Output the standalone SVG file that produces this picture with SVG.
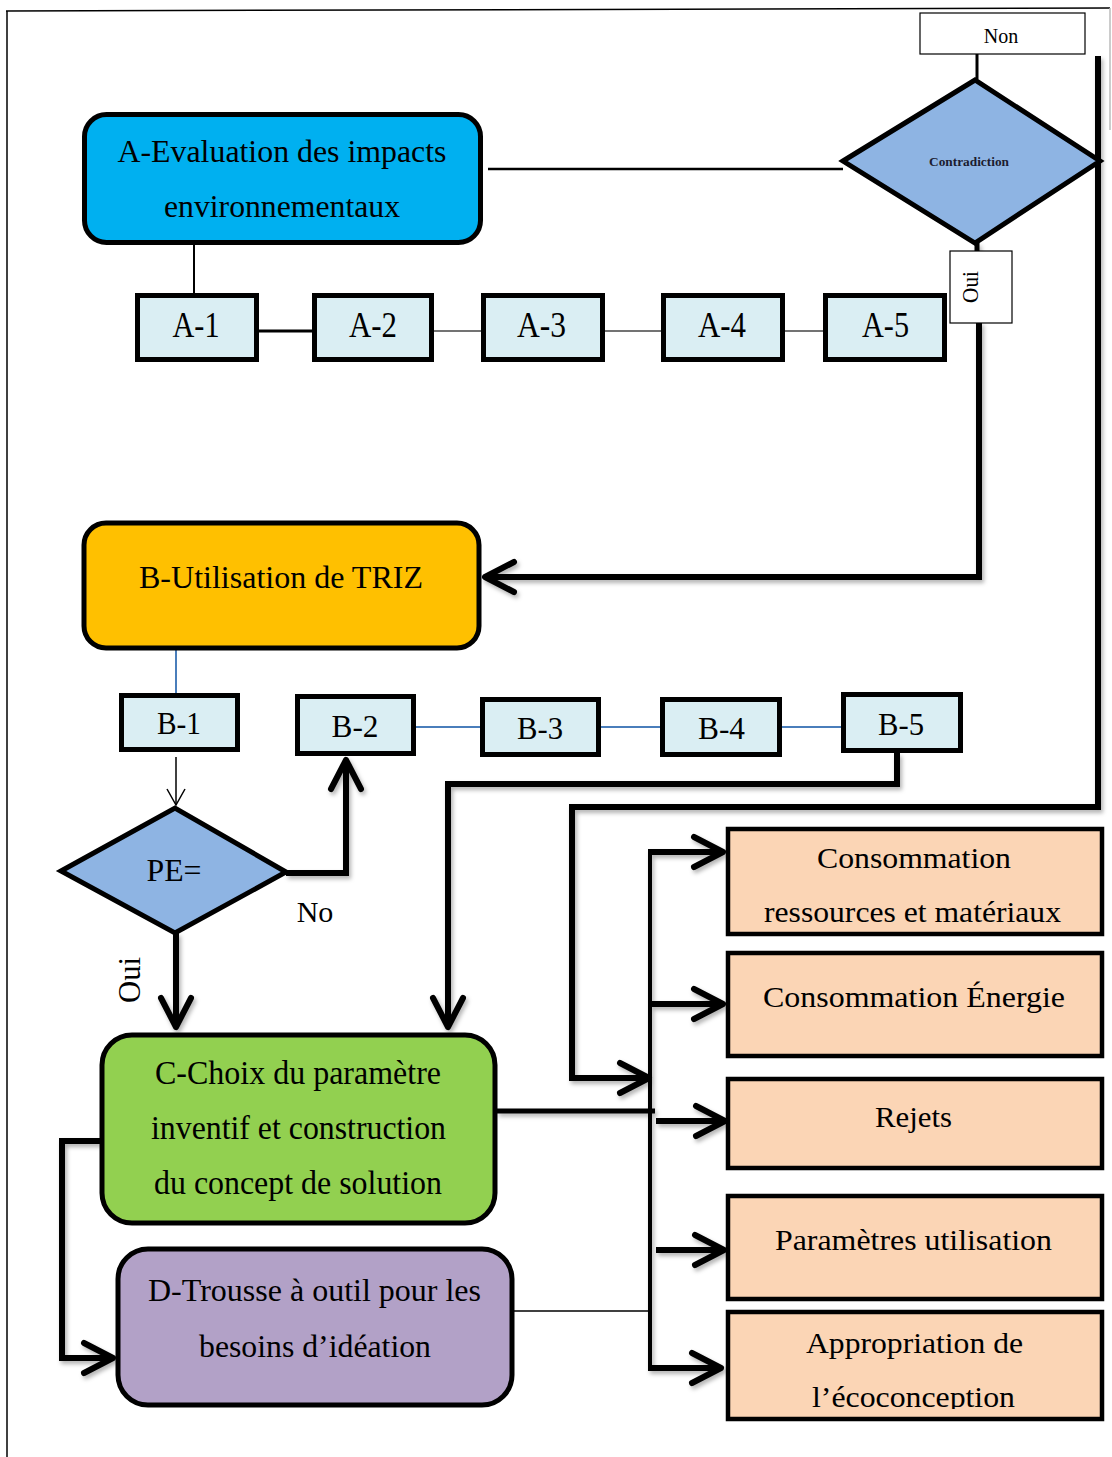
<svg xmlns="http://www.w3.org/2000/svg" width="1112" height="1457" viewBox="0 0 1112 1457">
  <style>
    .t { font-family: "Liberation Serif", "Times New Roman", serif; fill: #000; text-anchor: middle; }
    .box { stroke: #000; stroke-width: 5; }
    .sq { fill: #DAEEF3; stroke: #000; stroke-width: 5; }
    .out { fill: #FBD5B5; stroke: #000; stroke-width: 4.5; }
    .dia { fill: #8EB4E3; stroke: #000; stroke-width: 5; stroke-linejoin: miter; }
    .lbl { fill: #fff; stroke: #000; stroke-width: 1.2; }
    .ck { fill: none; stroke: #000; stroke-width: 6; stroke-linejoin: miter; }
    .cm { fill: none; stroke: #000; stroke-width: 4; }
    .cthin { fill: none; stroke: #000; stroke-width: 1.5; }
    .cgrey { fill: none; stroke: #444; stroke-width: 1.5; }
    .cblue { fill: none; stroke: #4A7EBB; stroke-width: 2; }
  </style>
  <defs>
    <marker id="ah" markerUnits="userSpaceOnUse" viewBox="-40 -22 46 44" refX="0" refY="0" markerWidth="46" markerHeight="44" orient="auto" overflow="visible">
      <path d="M-29,-15 L0,0 L-29,15" fill="none" stroke="#000" stroke-width="6" stroke-linecap="round" stroke-linejoin="round"/>
    </marker>
    <marker id="ahThin" markerUnits="userSpaceOnUse" viewBox="-20 -12 24 24" refX="0" refY="0" markerWidth="24" markerHeight="24" orient="auto" overflow="visible">
      <path d="M-16,-9 L0,0 L-16,9" fill="none" stroke="#000" stroke-width="1.5"/>
    </marker>
    <filter id="sh" x="-5%" y="-5%" width="110%" height="110%">
      <feDropShadow dx="2" dy="3" stdDeviation="2" flood-color="#000" flood-opacity="0.3"/>
    </filter>
    <clipPath id="clipLast">
      <rect x="728" y="1312" width="374" height="97"/>
    </clipPath>
  </defs>

  <rect width="1112" height="1457" fill="#fff"/>

  <!-- page frame -->
  <g id="frame">
    <path d="M6,11 L1110,8" stroke="#000" stroke-width="1.5" fill="none"/>
    <path d="M7,11 V1457" stroke="#000" stroke-width="1.5" fill="none"/>
    <path d="M1110,8 V130" stroke="#bbb" stroke-width="1.5" fill="none"/>
  </g>

  <!-- connectors -->
  <g id="connectors">
    <!-- thin / light links -->
    <path class="cthin" d="M194,243 V293" style="stroke-width:2"/>
    <path class="cthin" d="M488,169 H843" style="stroke-width:2.5"/>
    <path class="cthin" d="M977,54 V79" style="stroke-width:3"/>
    <path class="cthin" d="M259,331 H312" style="stroke-width:3"/>
    <path class="cgrey" d="M434,331 H481"/>
    <path class="cgrey" d="M605,331 H661"/>
    <path class="cgrey" d="M785,331 H823"/>
    <path class="cblue" d="M176,650 V693"/>
    <path class="cblue" d="M416,727 H480"/>
    <path class="cblue" d="M601,727 H660"/>
    <path class="cblue" d="M782,727 H841"/>
    <path class="cthin" d="M176,757 V805" marker-end="url(#ahThin)"/>
    <path class="cthin" d="M514,1311 H648"/>

    <g filter="url(#sh)">
      <!-- Oui branch of the contradiction test back to TRIZ -->
      <path class="ck" d="M977,243 V252" style="stroke-width:5"/>
      <path class="ck" d="M979,322 V577 H485" marker-end="url(#ah)"/>
      <!-- Non branch down the right side to the outputs -->
      <path class="ck" d="M1098,56 V807 H572 V1078 H649" marker-end="url(#ah)"/>
      <!-- PE decision -->
      <path class="ck" d="M286,873 H346 V760" marker-end="url(#ah)"/>
      <path class="ck" d="M176,933 V1027" marker-end="url(#ah)"/>
      <!-- B-5 to C -->
      <path class="ck" d="M897,753 V784 H448 V1027" marker-end="url(#ah)"/>
      <!-- C to D -->
      <path class="ck" d="M100,1141 H62 V1358 H113" marker-end="url(#ah)"/>
      <!-- C to output bus -->
      <path class="ck" d="M497,1111 H655" style="stroke-width:5"/>
      <path class="cm" d="M650,852 V1370"/>
      <path class="ck" d="M648,852 H723" marker-end="url(#ah)"/>
      <path class="ck" d="M650,1004 H723" marker-end="url(#ah)"/>
      <path class="ck" d="M656,1121 H725" marker-end="url(#ah)"/>
      <path class="ck" d="M656,1250 H724" marker-end="url(#ah)"/>
      <path class="ck" d="M648,1368 H721" marker-end="url(#ah)"/>
    </g>
  </g>

  <!-- A -->
  <g id="nodeA">
    <rect class="box" x="84.5" y="114.5" width="396" height="128" rx="22" fill="#00B0F0"/>
    <text class="t" x="282" y="162" font-size="32" textLength="329" lengthAdjust="spacingAndGlyphs">A-Evaluation des impacts</text>
    <text class="t" x="282" y="217" font-size="32" textLength="236" lengthAdjust="spacingAndGlyphs">environnementaux</text>
  </g>

  <g id="nodeNon">
    <rect class="lbl" x="920" y="13" width="165" height="41"/>
    <text class="t" x="1001" y="43" font-size="20">Non</text>
  </g>

  <g id="nodeContradiction">
    <polygon class="dia" points="843,161 975,80 1100,161 975,243"/>
    <text class="t" x="969" y="166" font-size="13" font-weight="bold" textLength="80" lengthAdjust="spacingAndGlyphs" style="fill:#1c1c30">Contradiction</text>
  </g>

  <g id="nodeOuiTop">
    <rect class="lbl" x="950" y="251" width="62" height="72"/>
    <text class="t" transform="translate(978,287) rotate(-90)" font-size="24" textLength="32" lengthAdjust="spacingAndGlyphs">Oui</text>
  </g>

  <g id="nodeA1">
    <rect class="sq" x="137.5" y="295.5" width="119" height="64"/>
    <text class="t" x="196" y="337" font-size="36" textLength="47" lengthAdjust="spacingAndGlyphs">A-1</text>
  </g>
  <g id="nodeA2">
    <rect class="sq" x="314.5" y="295.5" width="117" height="64"/>
    <text class="t" x="373" y="337" font-size="36" textLength="48" lengthAdjust="spacingAndGlyphs">A-2</text>
  </g>
  <g id="nodeA3">
    <rect class="sq" x="483.5" y="295.5" width="119" height="64"/>
    <text class="t" x="541.5" y="337" font-size="36" textLength="49" lengthAdjust="spacingAndGlyphs">A-3</text>
  </g>
  <g id="nodeA4">
    <rect class="sq" x="663.5" y="295.5" width="119" height="64"/>
    <text class="t" x="722" y="337" font-size="36" textLength="48" lengthAdjust="spacingAndGlyphs">A-4</text>
  </g>
  <g id="nodeA5">
    <rect class="sq" x="825.5" y="295.5" width="119" height="64"/>
    <text class="t" x="885.5" y="337" font-size="36" textLength="47" lengthAdjust="spacingAndGlyphs">A-5</text>
  </g>

  <!-- B -->
  <g id="nodeB">
    <rect class="box" x="84" y="523" width="395" height="125" rx="22" fill="#FFC000"/>
    <text class="t" x="281" y="588" font-size="32" textLength="284" lengthAdjust="spacingAndGlyphs">B-Utilisation de TRIZ</text>
  </g>

  <g id="nodeB1">
    <rect class="sq" x="121.5" y="695.5" width="116" height="54"/>
    <text class="t" x="179" y="734" font-size="32" textLength="44" lengthAdjust="spacingAndGlyphs">B-1</text>
  </g>
  <g id="nodeB2">
    <rect class="sq" x="297.5" y="696.5" width="116" height="57"/>
    <text class="t" x="355" y="737" font-size="32" textLength="47" lengthAdjust="spacingAndGlyphs">B-2</text>
  </g>
  <g id="nodeB3">
    <rect class="sq" x="482.5" y="699.5" width="116" height="55"/>
    <text class="t" x="540" y="739" font-size="32" textLength="46" lengthAdjust="spacingAndGlyphs">B-3</text>
  </g>
  <g id="nodeB4">
    <rect class="sq" x="662.5" y="699.5" width="117" height="55"/>
    <text class="t" x="721.5" y="739" font-size="32" textLength="47" lengthAdjust="spacingAndGlyphs">B-4</text>
  </g>
  <g id="nodeB5">
    <rect class="sq" x="843.5" y="694.5" width="117" height="56"/>
    <text class="t" x="901" y="735" font-size="32" textLength="46" lengthAdjust="spacingAndGlyphs">B-5</text>
  </g>

  <g id="nodePE">
    <polygon class="dia" points="61,871 175,808 286,872 175,933"/>
    <text class="t" x="174" y="881" font-size="32" textLength="55" lengthAdjust="spacingAndGlyphs">PE=</text>
  </g>
  <text class="t" x="315" y="922" font-size="30">No</text>
  <text class="t" transform="translate(140,980) rotate(-90)" font-size="31" textLength="46" lengthAdjust="spacingAndGlyphs">Oui</text>

  <!-- C -->
  <g id="nodeC">
    <rect class="box" x="102" y="1035" width="393" height="188" rx="30" fill="#92D050"/>
    <text class="t" x="298" y="1084" font-size="33" textLength="286" lengthAdjust="spacingAndGlyphs">C-Choix du paramètre</text>
    <text class="t" x="298.5" y="1139" font-size="33" textLength="295" lengthAdjust="spacingAndGlyphs">inventif et construction</text>
    <text class="t" x="298" y="1194" font-size="33" textLength="288" lengthAdjust="spacingAndGlyphs">du concept de solution</text>
  </g>

  <!-- D -->
  <g id="nodeD">
    <rect class="box" x="118" y="1249" width="394" height="156" rx="30" fill="#B2A1C7"/>
    <text class="t" x="314.5" y="1301" font-size="32" textLength="333" lengthAdjust="spacingAndGlyphs">D-Trousse à outil pour les</text>
    <text class="t" x="315" y="1357" font-size="32" textLength="232" lengthAdjust="spacingAndGlyphs">besoins d’idéation</text>
  </g>

  <!-- outputs -->
  <g id="nodeRessources">
    <rect class="out" x="728" y="829" width="374" height="105"/>
    <text class="t" x="914" y="868" font-size="30" textLength="194" lengthAdjust="spacingAndGlyphs">Consommation</text>
    <text class="t" x="912.5" y="922" font-size="30" textLength="297" lengthAdjust="spacingAndGlyphs">ressources et matériaux</text>
  </g>
  <g id="nodeEnergie">
    <rect class="out" x="728" y="953" width="374" height="103"/>
    <text class="t" x="914" y="1007" font-size="30" textLength="302" lengthAdjust="spacingAndGlyphs">Consommation Énergie</text>
  </g>
  <g id="nodeRejets">
    <rect class="out" x="728" y="1079" width="374" height="89"/>
    <text class="t" x="913.5" y="1127" font-size="30" textLength="77" lengthAdjust="spacingAndGlyphs">Rejets</text>
  </g>
  <g id="nodeParametres">
    <rect class="out" x="728" y="1196" width="374" height="103"/>
    <text class="t" x="913.5" y="1250" font-size="30" textLength="277" lengthAdjust="spacingAndGlyphs">Paramètres utilisation</text>
  </g>
  <g id="nodeAppropriation">
    <rect class="out" x="728" y="1312" width="374" height="107"/>
    <text class="t" x="914.5" y="1353" font-size="30" textLength="217" lengthAdjust="spacingAndGlyphs">Appropriation de</text>
    <text class="t" x="913.5" y="1407" font-size="30" textLength="203" lengthAdjust="spacingAndGlyphs" clip-path="url(#clipLast)">l’écoconception</text>
  </g>
</svg>
